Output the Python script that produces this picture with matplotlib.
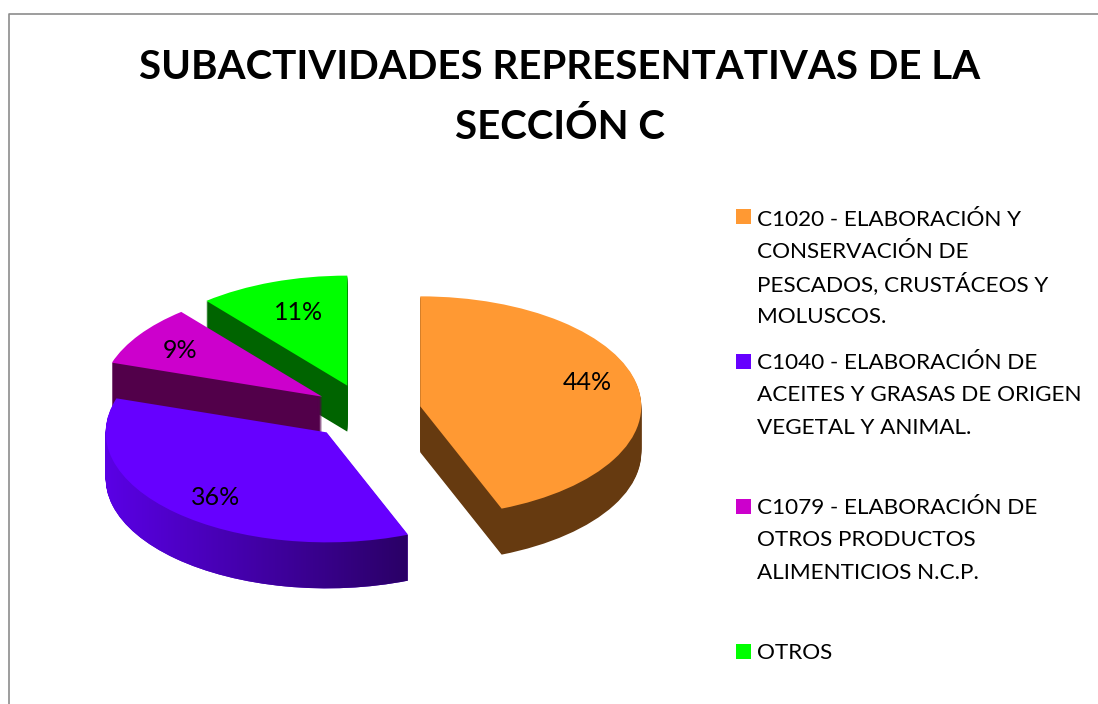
"""
Exploded pseudo 3D pie of the representative sub-activities of section C
"""

import numpy as np
import matplotlib
matplotlib.use('Agg')
import matplotlib.pyplot as plt
from matplotlib.lines import Line2D
from matplotlib.patches import Rectangle
from matplotlib.path import Path

plt.rcParams['font.family'] = ['Lato', 'DejaVu Sans']

title_lines = ['SUBACTIVIDADES REPRESENTATIVAS DE LA', 'SECCIÓN C']
categories = [
    'C1020 - ELABORACIÓN Y\nCONSERVACIÓN DE\nPESCADOS, CRUSTÁCEOS Y\nMOLUSCOS.',
    'C1040 - ELABORACIÓN DE\nACEITES Y GRASAS DE ORIGEN\nVEGETAL Y ANIMAL.',
    'C1079 - ELABORACIÓN DE\nOTROS PRODUCTOS\nALIMENTICIOS N.C.P.',
    'OTROS',
]
values = [44, 36, 9, 11]
top_colors = ['#ff9933', '#6600ff', '#cc00cc', '#00ff00']
side_colors = ['#663a10', '#5000d0', '#52004a', '#006400']

W, H = 1098, 704
RX, RY = 221.0, 110.0   # pixels per data unit, this squashes the pie
DEPTH = 46
CENTER = (366 / RX, (H - 411.5) / RY)
EXPLODE = [0.25, 0.26, 0.24, 0.25]
DRAW_ORDER = [3, 2, 1, 0]  # back to front
LABEL_NUDGE = [(0, 8), (5, -3), (-1, -1), (9, -7)]  # pixels, x right and y up


def draw_side(ax, idx, zorder):
    """Stack copies of one wedge downwards, returns their paths"""
    paths = []
    for offset in range(DEPTH, 0, -1):
        wedges, texts = ax.pie(values, explode=EXPLODE, startangle=90, counterclock=False,
                               center=(CENTER[0], CENTER[1] - offset / RY))
        for t in texts:
            t.remove()
        for j, w in enumerate(wedges):
            if j == idx:
                w.set(facecolor=side_colors[idx], linewidth=0, zorder=zorder)
                paths.append(w.get_path().transformed(w.get_patch_transform()))
            else:
                w.remove()
    return paths


def main():
    fig = plt.figure(figsize=(W / 100, H / 100), dpi=100)
    ax = fig.add_axes([0, 0, 1, 1])

    z = 1
    for idx in DRAW_ORDER:
        paths = draw_side(ax, idx, z)
        if idx == 1:
            # the purple rim gets darker to the right
            grad = np.linspace(0, 1, 256).reshape(1, -1)
            cmap = matplotlib.colors.LinearSegmentedColormap.from_list('rim', ['#5a00e6', '#2a0066'])
            im = ax.imshow(grad, cmap=cmap, aspect='auto', zorder=z + 0.5,
                           extent=(104 / RX, 408 / RX, 0, H / RY))
            im.set_clip_path(Path.make_compound_path(*paths), ax.transData)
        z += 2

    wedges, texts, autotexts = ax.pie(values, explode=EXPLODE, startangle=90, counterclock=False,
                                      center=CENTER, colors=top_colors, autopct='%1.0f%%',
                                      pctdistance=0.77, textprops={'fontsize': 18, 'color': 'black'})
    for t in texts:
        t.remove()
    for pos, idx in enumerate(DRAW_ORDER):
        wedges[idx].set(linewidth=0, zorder=2 + 2 * pos)
    for t, (dx, dy) in zip(autotexts, LABEL_NUDGE):
        x, y = t.get_position()
        t.set_position((x + dx / RX, y + dy / RY))
        t.set_zorder(20)

    ax.set_aspect('auto')
    ax.set_xlim(0, W / RX)
    ax.set_ylim(0, H / RY)
    ax.axis('off')

    for line, base in zip(title_lines, [79, 139]):
        fig.text(560 / W, 1 - base / H, line, ha='center', va='baseline', fontsize=29, fontweight='bold')

    # hand placed legend, the entries are not evenly spaced in the original
    first_baseline = [226, 369, 514, 659]
    box_y = [209, 354, 499, 644]
    for label, color, base, by in zip(categories, top_colors, first_baseline, box_y):
        for n, line in enumerate(label.split('\n')):
            fig.text(757 / W, 1 - (base + n * 32.3) / H, line, ha='left', va='baseline', fontsize=16.2)
        fig.add_artist(Rectangle((736 / W, 1 - (by + 15) / H), 15 / W, 15 / H, transform=fig.transFigure,
                                 facecolor=color, edgecolor='none'))

    # frame of the original chart area, cut by the crop
    fig.add_artist(Line2D([8.5 / W, 8.5 / W, 1], [0, 1 - 13.5 / H, 1 - 13.5 / H], color='#8c8c8c', linewidth=1.2))

    fig.savefig('out.png', dpi=100)


if __name__ == '__main__':
    main()
